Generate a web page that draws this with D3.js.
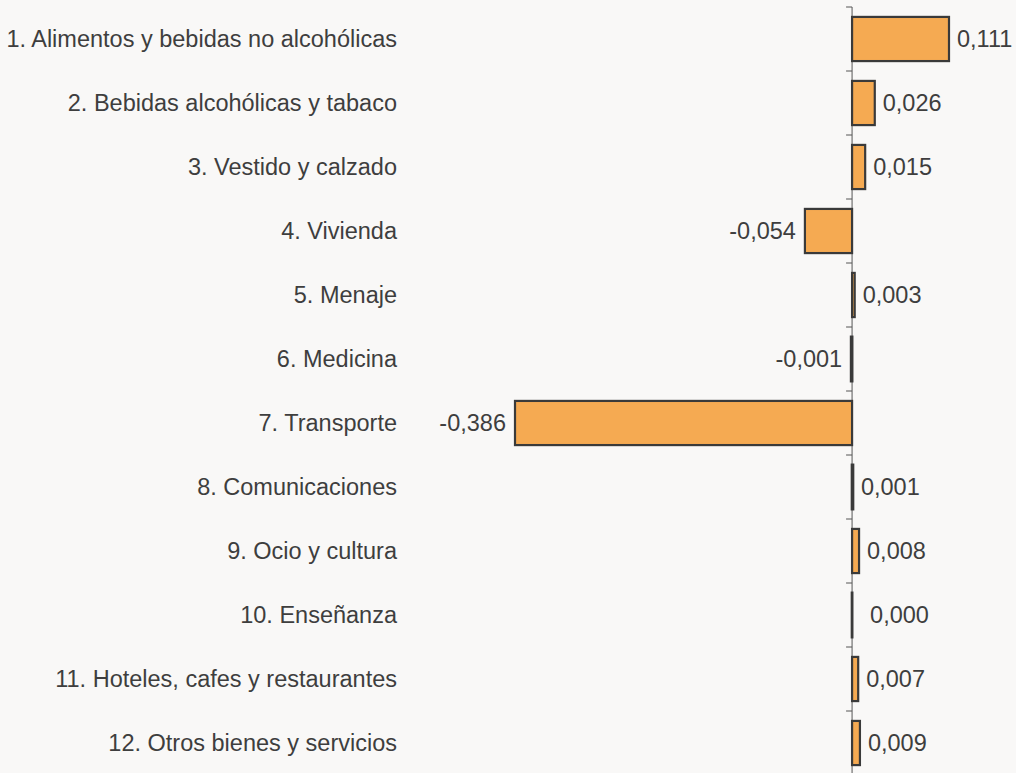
<!DOCTYPE html>
<html><head><meta charset="utf-8">
<script src="https://cdn.jsdelivr.net/npm/d3@7"></script>
<style>
html,body{margin:0;padding:0;background:#f9f8f7;}
svg{display:block;}
text{font-family:"Liberation Sans",Arial,sans-serif;fill:#3e3e3e;}
</style></head>
<body>
<script>
const categories = ["1. Alimentos y bebidas no alcohólicas","2. Bebidas alcohólicas y tabaco","3. Vestido y calzado","4. Vivienda","5. Menaje","6. Medicina","7. Transporte","8. Comunicaciones","9. Ocio y cultura","10. Enseñanza","11. Hoteles, cafes y restaurantes","12. Otros bienes y servicios"];
const values = [0.111,0.026,0.015,-0.054,0.003,-0.001,-0.386,0.001,0.008,0.000,0.007,0.009];
const valueLabels = ["0,111","0,026","0,015","-0,054","0,003","-0,001","-0,386","0,001","0,008","0,000","0,007","0,009"];

const W=1016,H=773;
const svg=d3.select("body").append("svg").attr("width",W).attr("height",H);
const x=d3.scaleLinear().domain([-0.386,0.111]).range([515,949]);
const y=d3.scaleBand().domain(categories).range([7,775]).paddingInner(0.31).paddingOuter(0.155);
const x0=x(0);

// axis line and ticks
const ax=svg.append("g");
ax.append("line").attr("x1",x0).attr("x2",x0).attr("y1",7).attr("y2",H).attr("stroke","#555").attr("stroke-width",1);
const step=y.step();
const bounds=d3.range(categories.length+1).map(i=>7+i*step);
ax.selectAll("line.t").data(bounds).join("line").attr("class","t")
  .attr("x1",x0-6).attr("x2",x0).attr("y1",d=>d).attr("y2",d=>d).attr("stroke","#555").attr("stroke-width",1);

// bars
svg.selectAll("rect.bar").data(values).join("rect").attr("class","bar")
  .attr("x",d=>Math.min(x(d),x0)).attr("width",d=>Math.max(0.01,Math.abs(x(d)-x0)))
  .attr("y",(d,i)=>y(categories[i])).attr("height",y.bandwidth())
  .attr("fill","#f5aa52").attr("stroke","#3a3a3a").attr("stroke-width",d=>Math.abs(d)<0.002?2.8:2.2);

// value labels
svg.selectAll("text.v").data(values).join("text").attr("class","v")
  .attr("x",d=>d<0?x(d)-9:(d===0?x0+18:x(d)+8))
  .attr("y",(d,i)=>y(categories[i])+y.bandwidth()/2)
  .attr("dy","0.35em").attr("text-anchor",d=>d<0?"end":"start")
  .attr("font-size",23.5).text((d,i)=>valueLabels[i]);

// category labels
svg.selectAll("text.c").data(categories).join("text").attr("class","c")
  .attr("x",397).attr("y",d=>y(d)+y.bandwidth()/2).attr("dy","0.35em")
  .attr("text-anchor","end").attr("font-size",23.5).text(d=>d);
</script>
</body></html>
